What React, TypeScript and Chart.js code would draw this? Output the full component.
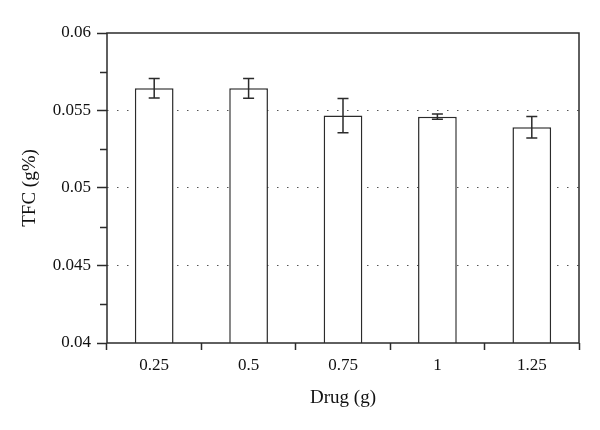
import React, { useEffect, useRef } from "react";
import { Chart, registerables } from "chart.js";

Chart.register(...registerables);

const categories = ["0.25", "0.5", "0.75", "1", "1.25"];
const tfcValues = [0.05643, 0.05643, 0.05467, 0.0546, 0.05392];
const tfcErrors = [0.00063, 0.00064, 0.0011, 0.00017, 0.0007];
const yMin = 0.04;
const yMax = 0.06;
const yStep = 0.005;
const yMinorTicks = [0.0425, 0.0475, 0.0525, 0.0575];

const FONT = "'Liberation Serif', 'Times New Roman', serif";
const INK = "#2b2b2b";

const errorBarPlugin = {
  id: "errorBars",
  afterDatasetsDraw(chart: any) {
    const meta = chart.getDatasetMeta(0);
    const yScale = chart.scales.y;
    const ctx = chart.ctx;
    ctx.save();
    ctx.strokeStyle = INK;
    ctx.lineWidth = 1.5;
    meta.data.forEach((bar: any, i: number) => {
      const x = bar.x;
      const yTop = yScale.getPixelForValue(tfcValues[i] + tfcErrors[i]);
      const yBot = yScale.getPixelForValue(tfcValues[i] - tfcErrors[i]);
      const cap = 5.5;
      ctx.beginPath();
      ctx.moveTo(x, yTop);
      ctx.lineTo(x, yBot);
      ctx.moveTo(x - cap, yTop);
      ctx.lineTo(x + cap, yTop);
      ctx.moveTo(x - cap, yBot);
      ctx.lineTo(x + cap, yBot);
      ctx.stroke();
    });
    ctx.restore();
  },
  afterDraw(chart: any) {
    const { ctx, chartArea } = chart;
    const yScale = chart.scales.y;
    ctx.save();
    ctx.strokeStyle = INK;
    ctx.lineWidth = 1.5;
    ctx.strokeRect(
      chartArea.left,
      chartArea.top,
      chartArea.right - chartArea.left,
      chartArea.bottom - chartArea.top
    );
    ctx.beginPath();
    yMinorTicks.forEach((v) => {
      const y = Math.round(yScale.getPixelForValue(v)) + 0.5;
      ctx.moveTo(chartArea.left - 7, y);
      ctx.lineTo(chartArea.left, y);
    });
    ctx.stroke();
    ctx.restore();
  },
};

export default function App() {
  const canvasRef = useRef<HTMLCanvasElement | null>(null);

  useEffect(() => {
    document.body.style.margin = "0";
    const canvas = canvasRef.current;
    if (!canvas) return;
    const chart = new Chart(canvas, {
      type: "bar",
      data: {
        labels: categories,
        datasets: [
          {
            data: tfcValues,
            backgroundColor: "#ffffff",
            borderColor: INK,
            borderWidth: 1.5,
            borderSkipped: false,
            categoryPercentage: 1,
            barPercentage: 0.41,
          },
        ],
      },
      options: {
        responsive: false,
        animation: false,
        devicePixelRatio: 1,
        layout: { padding: { left: 0, top: 33, right: 21, bottom: 0 } },
        plugins: {
          legend: { display: false },
          tooltip: { enabled: false },
        },
        scales: {
          x: {
            offset: true,
            grid: {
              offset: true,
              drawOnChartArea: false,
              drawTicks: true,
              tickLength: 7,
              tickColor: INK,
              tickWidth: 1.5,
            },
            border: { display: false },
            ticks: {
              color: "#111",
              padding: 5,
              font: { family: FONT, size: 17 },
              maxRotation: 0,
            },
            title: {
              display: true,
              text: "Drug (g)",
              color: "#111",
              font: { family: FONT, size: 19 },
              padding: { top: 0, bottom: 21 },
            },
            afterFit(scale: any) {
              scale.height = 87;
            },
          },
          y: {
            min: yMin,
            max: yMax,
            ticks: {
              stepSize: yStep,
              color: "#111",
              padding: 6,
              font: { family: FONT, size: 17 },
              callback: (v: any) => String(parseFloat(Number(v).toFixed(4))),
            },
            grid: {
              color: (ctx: any) =>
                ctx.tick && (ctx.tick.value <= yMin + 1e-9 || ctx.tick.value >= yMax - 1e-9)
                  ? "rgba(0,0,0,0)"
                  : "#555",
              lineWidth: 1,
              drawTicks: true,
              tickLength: 10,
              tickColor: INK,
              tickWidth: 1.5,
              tickBorderDash: [],
            },
            border: { display: false, dash: [1.5, 8.5] },
            title: {
              display: true,
              text: "TFC (g%)",
              color: "#111",
              font: { family: FONT, size: 19 },
              padding: { top: 19, bottom: 0 },
            },
            afterFit(scale: any) {
              scale.width = 107;
            },
          },
        },
      },
      plugins: [errorBarPlugin],
    });
    return () => chart.destroy();
  }, []);

  return (
    <div style={{ position: "absolute", left: 0, top: 0, width: 600, height: 430, background: "#fff" }}>
      <canvas ref={canvasRef} width={600} height={430} />
    </div>
  );
}
